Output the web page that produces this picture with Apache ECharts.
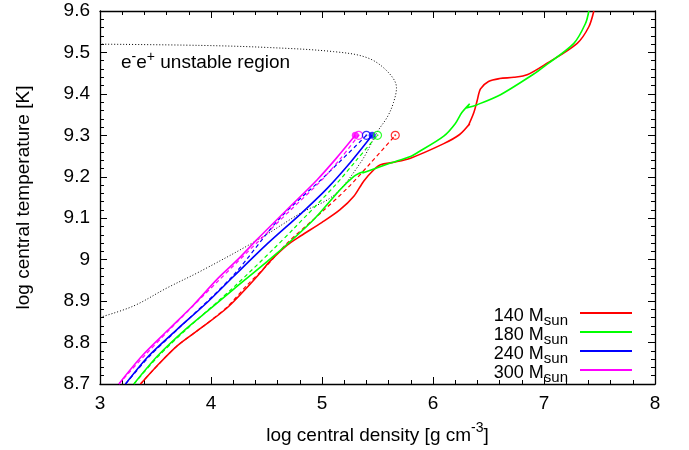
<!DOCTYPE html>
<html><head><meta charset="utf-8">
<script src="https://cdn.jsdelivr.net/npm/echarts@6/dist/echarts.min.js"></script>
<style>html,body{margin:0;padding:0;background:#fff}#c{width:689px;height:450px}</style>
</head><body><div id="c"></div>
<script>
// ---- data (log rho_c, log T_c) ----
const massNames = ['140', '180', '240', '300'];
const track140 = [[3.365,8.70],[3.515,8.744],[3.695,8.792],[3.905,8.834],[4.146,8.884],[4.356,8.942],[4.45,8.970],[4.52,8.993],[4.686,9.035],[4.806,9.057],[5.0,9.09],[5.16,9.12],[5.287,9.153],[5.377,9.19],[5.467,9.217],[5.527,9.229],[5.647,9.235],[5.797,9.245],[6.097,9.280],[6.24,9.302],[6.33,9.328],[6.318,9.323],[6.368,9.355],[6.398,9.384],[6.428,9.412],[6.50,9.430],[6.60,9.437],[6.728,9.44],[6.848,9.446],[7.028,9.474],[7.299,9.522],[7.404,9.562],[7.449,9.6]];
const track180 = [[3.305,8.70],[3.52,8.768],[3.77,8.832],[4.0,8.883],[4.205,8.929],[4.566,9.009],[4.926,9.097],[5.167,9.17],[5.287,9.201],[5.34,9.209],[5.377,9.213],[5.365,9.209],[5.467,9.219],[5.617,9.233],[5.797,9.249],[5.858,9.258],[6.097,9.298],[6.20,9.328],[6.26,9.355],[6.33,9.376],[6.30,9.366],[6.398,9.374],[6.608,9.398],[6.908,9.448],[7.0,9.466],[7.269,9.522],[7.374,9.57],[7.404,9.6]];
const track240 = [[3.23,8.70],[3.44,8.768],[3.695,8.832],[3.95,8.893],[4.205,8.96],[4.506,9.038],[4.806,9.11],[5.047,9.172],[5.257,9.235],[5.452,9.30]];
const track300 = [[3.17,8.70],[3.38,8.768],[3.62,8.832],[3.84,8.89],[4.056,8.953],[4.24,9.0],[4.416,9.049],[4.686,9.121],[4.957,9.193],[5.13,9.245],[5.30,9.30]];
const alt140 = [[3.365,8.70],[3.515,8.744],[3.695,8.792],[3.905,8.834],[4.146,8.886],[4.33,8.94],[4.50,8.985],[4.686,9.04],[4.99,9.113],[5.227,9.172],[5.437,9.233],[5.66,9.30]];
const alt180 = [[3.305,8.70],[3.53,8.768],[3.78,8.832],[4.21,8.935],[4.56,9.025],[4.746,9.075],[5.12,9.18],[5.31,9.24],[5.50,9.30]];
const alt240 = [[3.23,8.70],[3.45,8.768],[3.70,8.832],[4.20,8.962],[4.62,9.10],[5.02,9.20],[5.40,9.30]];
const alt300 = [[3.17,8.70],[3.40,8.768],[3.63,8.832],[4.07,8.95],[4.43,9.045],[4.71,9.118],[4.99,9.19],[5.17,9.245],[5.33,9.30]];
const pairBoundary = [[3.0,8.861],[3.3,8.888],[3.605,8.932],[3.905,8.972],[4.416,9.047],[4.806,9.112],[5.104,9.155],[5.347,9.234],[5.5,9.309],[5.59,9.345],[5.644,9.379],[5.671,9.415],[5.59,9.454],[5.41,9.487],[5.104,9.502],[4.509,9.512],[3.905,9.517],[3.0,9.52]];
const filledEnds = [[5.30,9.30],[5.452,9.30]];   // 300, 240
const openEnds = [[5.33,9.30],[5.40,9.30],[5.50,9.30],[5.66,9.30]]; // 300, 240, 180, 140
const xTickLabels = [3,4,5,6,7,8];
const yTickLabels = [8.7,8.8,8.9,9.0,9.1,9.2,9.3,9.4,9.5,9.6];

// ---- styling ----
const FONT = '"Liberation Sans", Arial, sans-serif';
const colors = {'140':'#ff0000','180':'#00ff00','240':'#0000ff','300':'#ff00ff'};
const solid = {'140':track140,'180':track180,'240':track240,'300':track300};
const dashed = {'140':alt140,'180':alt180,'240':alt240,'300':alt300};
const filledCols = [colors['300'], colors['240']];
const openCols = [colors['300'], colors['240'], colors['180'], colors['140']];

const series = [];
series.push({type:'line', name:'boundary', data:pairBoundary, showSymbol:false, silent:true, smooth:0.35,
  lineStyle:{color:'#000', width:1, type:[1,2]}, z:1});
massNames.forEach(m => {
  series.push({type:'line', name:m+'d', data:dashed[m], showSymbol:false, color:colors[m], smooth:0.3,
    lineStyle:{color:colors[m], width:1.2, type:[4,3]}, z:2});
});
massNames.forEach(m => {
  series.push({type:'line', name:m, data:solid[m], showSymbol:false, color:colors[m], smooth:0.3,
    itemStyle:{color:colors[m]}, lineStyle:{color:colors[m], width:1.6}, z:3});
});
series.push({type:'scatter', name:'filled', symbol:'circle', symbolSize:7, z:4,
  data:filledEnds.map((d,i)=>({value:d, itemStyle:{color:filledCols[i]}}))});
series.push({type:'scatter', name:'open', symbol:'circle', symbolSize:8, z:4,
  data:openEnds.map((d,i)=>({value:d, itemStyle:{color:'rgba(255,255,255,0)', borderColor:openCols[i], borderWidth:1.2}}))});
series.push({type:'scatter', name:'opendot', symbol:'circle', symbolSize:2, z:4,
  data:openEnds.map((d,i)=>({value:d, itemStyle:{color:openCols[i]}}))});

const axisCommon = {
  axisLine:{show:true, onZero:false, lineStyle:{color:'#000', width:1.3}},
  axisTick:{show:true, inside:true, length:7, lineStyle:{color:'#000', width:1}},
  minorTick:{show:true, splitNumber:5, length:4, lineStyle:{color:'#000', width:1}},
  splitLine:{show:false}
};
const fmt = v => String(Math.round(v*10)/10);

const legends = massNames.map((m, i) => ({
  data:[m], orient:'vertical', right:57, top:307 + i*19, align:'right', padding:0, itemGap:0,
  icon:'rect', itemWidth:52, itemHeight:2, selectedMode:false,
  formatter: n => '{a|' + n + ' M}{s|sun}',
  textStyle:{fontSize:18, fontFamily:FONT, color:'#000', rich:{
    a:{fontSize:18, fontFamily:FONT, color:'#000', lineHeight:12, verticalAlign:'top'},
    s:{fontSize:15, fontFamily:FONT, color:'#000', lineHeight:11, padding:[6,7,0,0], verticalAlign:'top'}}}
}));

const option = {
  animation:false,
  backgroundColor:'#fff',
  grid:{left:100, top:11, width:555, height:374},
  xAxis:[
    Object.assign({type:'value', min:xTickLabels[0], max:xTickLabels[xTickLabels.length-1], interval:1, position:'bottom',
      axisLabel:{fontSize:19, color:'#000', fontFamily:FONT, margin:10, formatter:fmt},
      name:'{a|log central density [g cm}{p|-3}{a|]}', nameLocation:'middle', nameGap:37,
      nameTextStyle:{rich:{
        a:{fontSize:19, fontFamily:FONT, color:'#000', lineHeight:19, padding:[5,0,0,0], verticalAlign:'top'},
        p:{fontSize:14, fontFamily:FONT, color:'#000', lineHeight:14, verticalAlign:'top'}}}
    }, axisCommon),
    Object.assign({type:'value', min:3, max:8, interval:1, position:'top', axisLabel:{show:false}}, axisCommon)
  ],
  yAxis:[
    Object.assign({type:'value', min:yTickLabels[0], max:yTickLabels[yTickLabels.length-1], interval:0.1, position:'left',
      axisLabel:{fontSize:19, color:'#000', fontFamily:FONT, margin:10, formatter:fmt},
      name:'log central temperature [K]', nameLocation:'middle', nameGap:67, nameRotate:90,
      nameTextStyle:{fontSize:19, fontFamily:FONT, color:'#000'}
    }, axisCommon),
    Object.assign({type:'value', min:8.7, max:9.6, interval:0.1, position:'right', axisLabel:{show:false}}, axisCommon)
  ],
  legend:legends,
  graphic:[{type:'text', left:121, top:50, z:10, style:{
    text:'{a|e}{p|-}{a|e}{p|+}{a| unstable region}',
    rich:{
      a:{fontSize:19, fontFamily:FONT, fill:'#000', lineHeight:19, padding:[3,0,0,0], verticalAlign:'top'},
      p:{fontSize:14, fontFamily:FONT, fill:'#000', lineHeight:14, verticalAlign:'top'}}
  }}],
  series:series
};
const chart = echarts.init(document.getElementById('c'), null, {renderer:'canvas'});
chart.setOption(option);
</script></body></html>
